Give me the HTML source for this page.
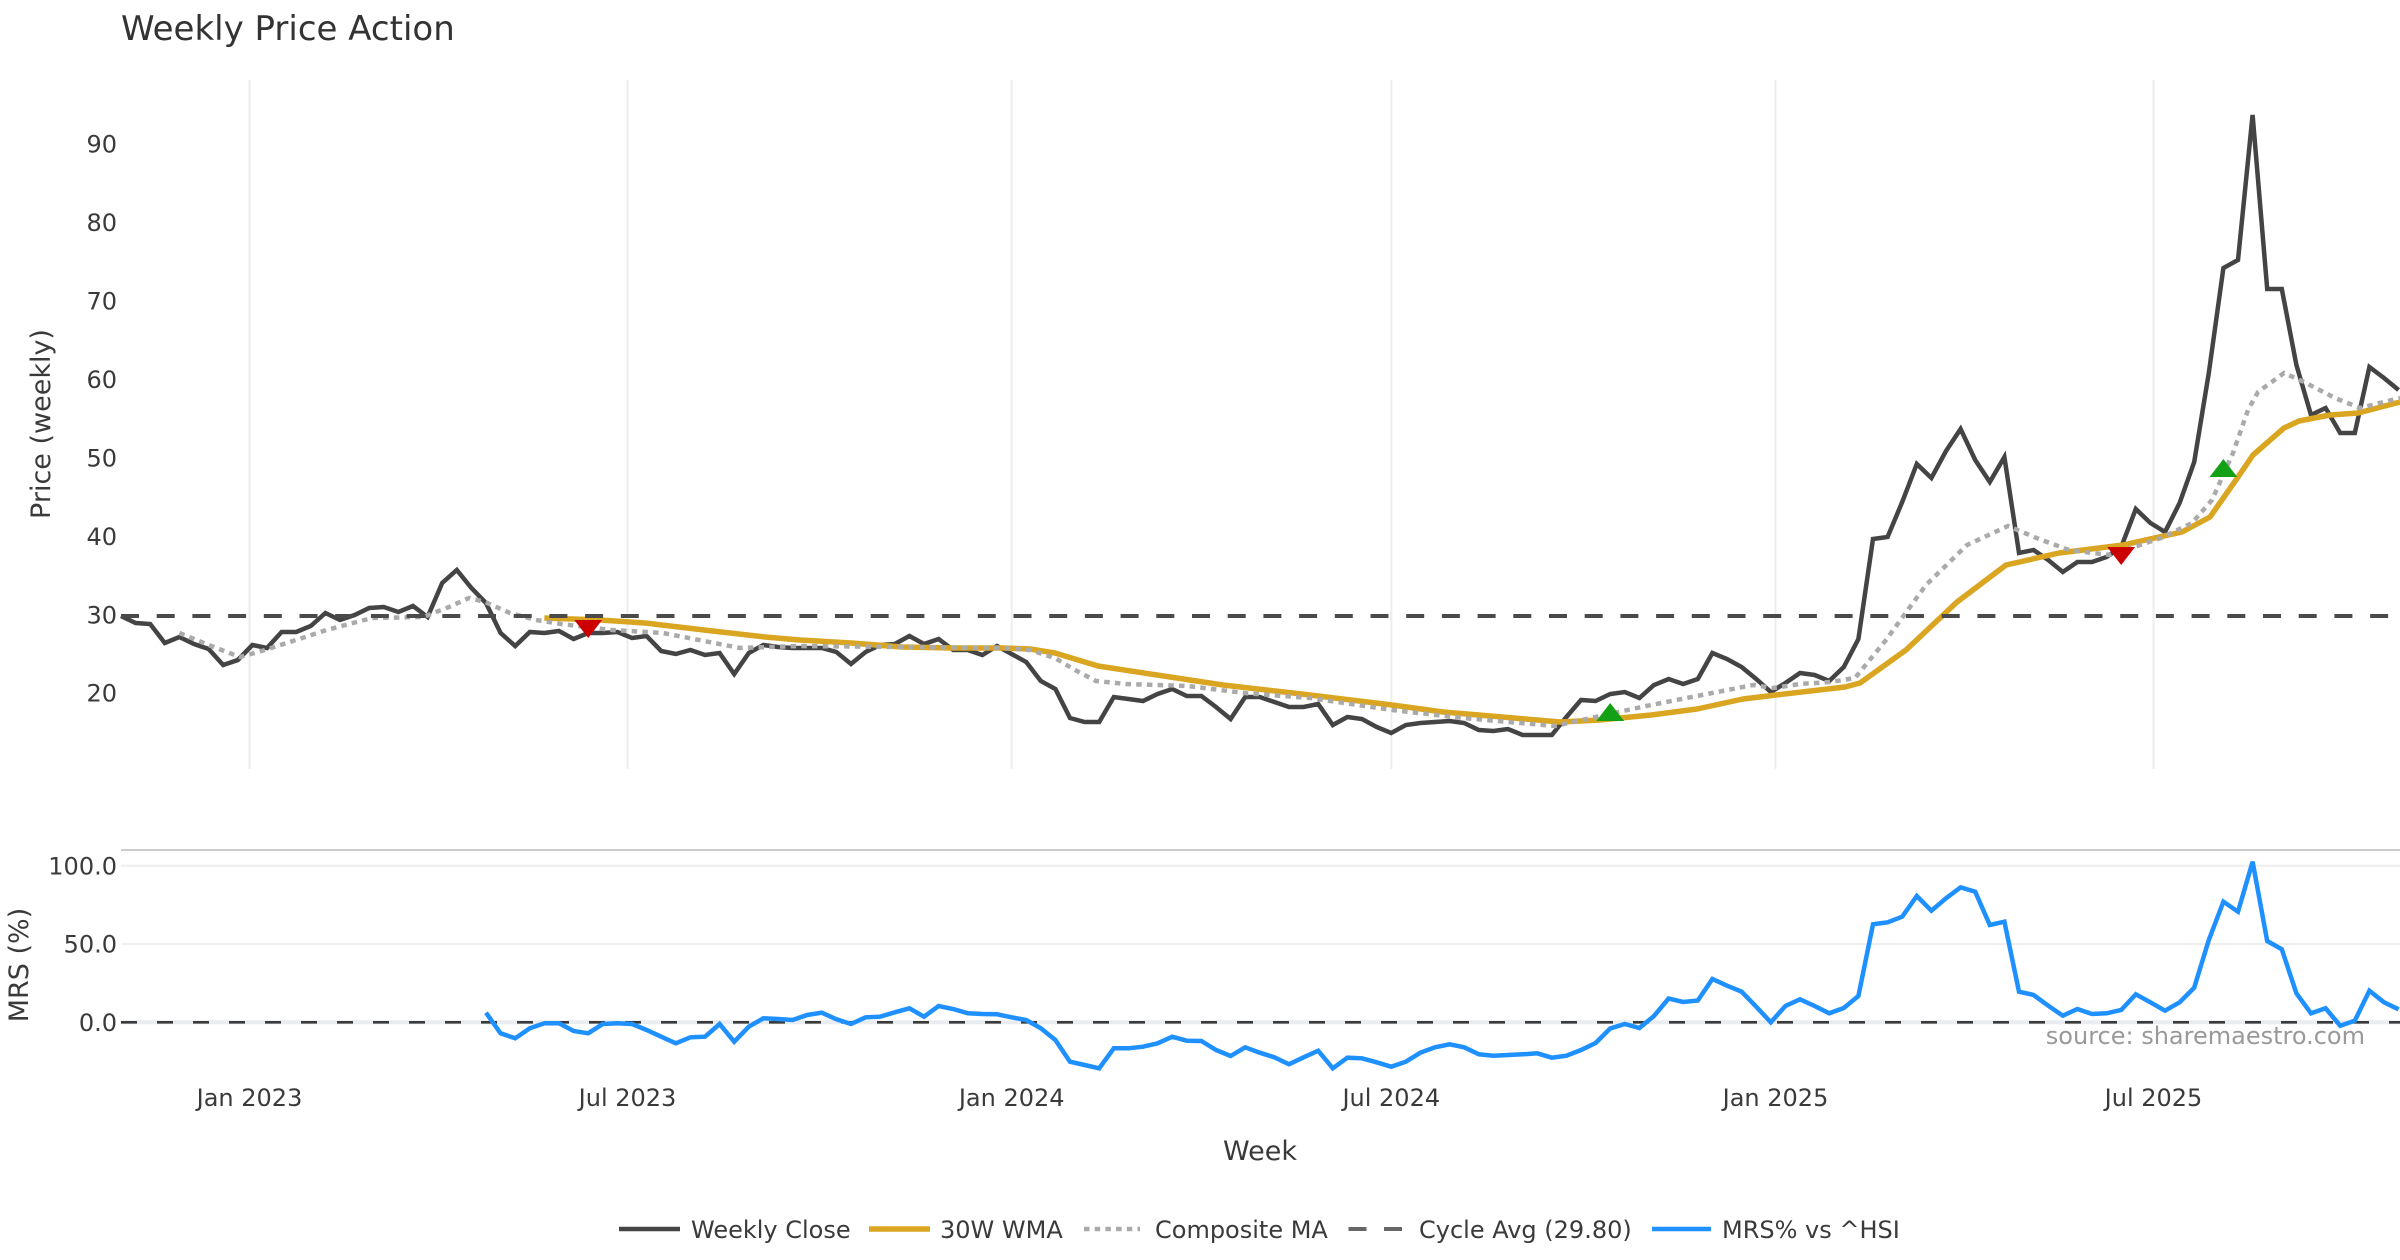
<!DOCTYPE html>
<html>
<head>
<meta charset="utf-8">
<style>
html,body{margin:0;padding:0;background:#fff;}
svg{display:block;}
text{font-family:"DejaVu Sans","Liberation Sans",sans-serif;fill:#3a3a3a;}
</style>
</head>
<body>
<svg width="2400" height="1260" viewBox="0 0 2400 1260" xmlns="http://www.w3.org/2000/svg">
<rect x="0" y="0" width="2400" height="1260" fill="#ffffff"/>

<!-- Title -->
<text x="121" y="40" font-size="34" style="fill:#333">Weekly Price Action</text>

<!-- Price panel vertical gridlines -->
<g stroke="#eceef1" stroke-width="2">
<line x1="249.5" y1="80" x2="249.5" y2="769"/>
<line x1="627.5" y1="80" x2="627.5" y2="769"/>
<line x1="1011.7" y1="80" x2="1011.7" y2="769"/>
<line x1="1391.3" y1="80" x2="1391.3" y2="769"/>
<line x1="1775.5" y1="80" x2="1775.5" y2="769"/>
<line x1="2153.5" y1="80" x2="2153.5" y2="769"/>
</g>

<!-- Price y tick labels -->
<g font-size="24" text-anchor="end">
<text x="117" y="152.7">90</text>
<text x="117" y="231.1">80</text>
<text x="117" y="309.6">70</text>
<text x="117" y="388">60</text>
<text x="117" y="466.4">50</text>
<text x="117" y="544.8">40</text>
<text x="117" y="623.3">30</text>
<text x="117" y="701.7">20</text>
</g>

<text transform="translate(50,424) rotate(-90)" font-size="27" text-anchor="middle">Price (weekly)</text>

<!-- Weekly close -->
<polyline fill="none" stroke="#444444" stroke-width="4.5" stroke-linejoin="miter" points="121,616 135.6,623 150.2,624 164.8,643 179.4,637 194,644 208.6,649 223.2,665 237.8,660 252.4,645 267,648 281.6,632 296.2,632 310.8,626 325.4,613 340,620 354.6,615 369.2,608 383.8,607 398.4,612 413,606 427.6,617 442.2,583 456.8,570 471.4,588 486,603 500.6,633 515.2,646 529.8,632 544.4,633 559,631 573.6,639 588.2,633 602.8,633 617.4,632 632,638 646.6,636 661.2,651 675.8,654 690.4,650 705,655 719.6,653 734.2,674 748.8,653 763.4,645 778,647 792.6,648 807.2,648 821.8,648 836.4,652 851,664 865.6,652 880.2,645 894.8,644 909.4,636 924,644 938.6,639 953.2,650 967.8,650 982.4,655 997,646 1011.6,654 1026.2,662 1040.8,681 1055.4,689 1070,718 1084.6,722 1099.2,722 1113.8,697 1128.4,699 1143,701 1157.6,694 1172.2,689 1186.8,696 1201.4,696 1216,707 1230.6,719 1245.2,697 1259.8,697 1274.4,702 1289,707 1303.6,707 1318.2,704 1332.8,725 1347.4,717 1362,719 1376.6,727 1391.2,733 1405.8,725 1420.4,723 1435,722 1449.6,721 1464.2,723 1478.8,730 1493.4,731 1508,729 1522.6,735 1537.2,735 1551.8,735 1566.4,717 1581,700 1595.6,701 1610.2,694 1624.8,692 1639.4,698 1654,685 1668.6,679 1683.2,684 1697.8,679 1712.4,653 1727,659 1741.6,667 1756.2,679 1770.8,692 1785.4,683 1800,673 1814.6,675 1829.2,681 1843.8,667 1858.4,639 1873,539 1887.6,537 1902.2,502 1916.8,464 1931.4,478 1946,451 1960.6,429 1975.2,460 1989.8,482 2004.4,457 2019,553 2033.6,550 2048.2,560 2062.8,572 2077.4,562 2092,562 2106.6,557 2121.2,547 2135.8,509 2150.4,523 2165,532 2179.6,503 2194.2,462 2208.8,373 2223.4,268 2238,260 2252.6,115 2267.2,289 2281.8,289 2296.4,365 2311,415 2325.6,408 2340.2,433 2354.8,433 2369.4,367 2384,378 2398.6,390"/>

<!-- 30W WMA -->
<polyline fill="none" stroke="#DAA520" stroke-width="5.5" stroke-linejoin="round" points="544.4,618 600,620 645,623 704,630 765,637 800,640 851,643 902,647 953,648 1004,648 1030,649 1055,653 1098,666 1157,675 1223,685 1310,695 1392,705 1443,712 1514,718 1560,722 1600,720 1651,715 1697,709 1743,699 1776,695 1845,687 1860,683 1906,650 1957,602 2006,565 2059,553 2123,545 2182,532 2210,517 2238,477 2253,455 2284,428 2299,421 2330,415 2358,413 2400,402"/>

<!-- Composite MA -->
<polyline fill="none" stroke="#aaaaaa" stroke-width="4.5" stroke-dasharray="5.5,5.2" points="179.4,633 208.6,645 240,657 265,650 296,640 326.5,630 372,618 423.5,617 449,607 469,598 485,602 510,613 536,620 561,624 612,630 663,633 740,648 800,646 902,647 1004,648 1030,650 1055,658 1075,670 1096,681 1126,684 1188,686 1244,693 1310,698 1392,710 1463,718 1555,726 1600,716 1651,705 1702,695 1753,685 1773,688 1800,684 1830,682 1855,678 1886,640 1926,585 1967,545 2008,526 2039,539 2069,550 2110,555 2161,538 2192,523 2212,500 2233,453 2248,410 2258,392 2284,373 2304,382 2335,398 2360,408 2400,398"/>

<!-- Cycle avg -->
<line x1="121" y1="616" x2="2400" y2="616" stroke="#4a4a4a" stroke-width="4" stroke-dasharray="18,17.7"/>

<!-- Markers -->
<path d="M574.3,620 L602.1,620 L588.2,638 Z" fill="#cc0000"/>
<path d="M1596.3,721 L1624.1,721 L1610.2,703 Z" fill="#14a014"/>
<path d="M2107.3,547 L2135.1,547 L2121.2,565 Z" fill="#cc0000"/>
<path d="M2209.5,477 L2237.3,477 L2223.4,459 Z" fill="#14a014"/>

<!-- MRS panel -->
<line x1="121" y1="850" x2="2400" y2="850" stroke="#cccccc" stroke-width="2"/>
<g stroke="#eeeeee" stroke-width="2">
<line x1="121" y1="865.7" x2="2400" y2="865.7"/>
<line x1="121" y1="944" x2="2400" y2="944"/>
</g>
<line x1="121" y1="1022.3" x2="2400" y2="1022.3" stroke="#e9ecf1" stroke-width="4"/>
<line x1="121" y1="1022.3" x2="2400" y2="1022.3" stroke="#3a3a3a" stroke-width="2.7" stroke-dasharray="16,20"/>

<g font-size="24" text-anchor="end">
<text x="117" y="874.4">100.0</text>
<text x="117" y="952.7">50.0</text>
<text x="117" y="1031">0.0</text>
</g>
<text transform="translate(28,965) rotate(-90)" font-size="27" text-anchor="middle">MRS (%)</text>

<polyline fill="none" stroke="#1E90FF" stroke-width="4.5" stroke-linejoin="miter" points="486,1012.7 500.6,1033.3 515.2,1038.3 529.8,1028.3 544.4,1023.3 559,1023.3 573.6,1031 588.2,1033.3 602.8,1024 617.4,1023.3 632,1024 646.6,1030 661.2,1036.7 675.8,1043.3 690.4,1037.3 705,1036.7 719.6,1024 734.2,1041.7 748.8,1026.7 763.4,1018.3 778,1019 792.6,1020 807.2,1015 821.8,1012.7 836.4,1019.3 851,1024 865.6,1017.3 880.2,1016.7 894.8,1012.3 909.4,1008.3 924,1016.7 938.6,1006 953.2,1009 967.8,1013.3 982.4,1014 997,1014.3 1011.6,1017.3 1026.2,1020 1040.8,1028.3 1055.4,1040 1070,1061.7 1084.6,1065 1099.2,1068.3 1113.8,1048.3 1128.4,1048.3 1143,1046.7 1157.6,1043.3 1172.2,1036.7 1186.8,1040.7 1201.4,1041 1216,1050 1230.6,1056 1245.2,1047.3 1259.8,1052.7 1274.4,1057.3 1289,1064.3 1303.6,1057.3 1318.2,1050.7 1332.8,1068.3 1347.4,1057.7 1362,1058.3 1376.6,1062.3 1391.2,1066.7 1405.8,1061.7 1420.4,1052.7 1435,1047.3 1449.6,1044.3 1464.2,1047.3 1478.8,1054.3 1493.4,1055.7 1508,1055 1522.6,1054.3 1537.2,1053.3 1551.8,1057.7 1566.4,1055.7 1581,1050 1595.6,1043 1610.2,1028.5 1624.8,1024 1639.4,1028 1654,1016 1668.6,998.5 1683.2,1002 1697.8,1000.5 1712.4,979 1727,985.7 1741.6,991.7 1756.2,1006.7 1770.8,1022.3 1785.4,1006 1800,999.3 1814.6,1006 1829.2,1013.3 1843.8,1008 1858.4,996 1873,924.3 1887.6,922.3 1902.2,916.7 1916.8,896 1931.4,910.7 1946,898.3 1960.6,887.3 1975.2,891.7 1989.8,925 2004.4,921.7 2019,991.7 2033.6,995 2048.2,1005.7 2062.8,1015.7 2077.4,1009 2092,1014 2106.6,1013.3 2121.2,1010 2135.8,994.3 2150.4,1002.3 2165,1010.7 2179.6,1002.3 2194.2,987.7 2208.8,940 2223.4,901.7 2238,911.7 2252.6,861.7 2267.2,941 2281.8,949.3 2296.4,993.3 2311,1013.3 2325.6,1008.3 2340.2,1025.7 2354.8,1020.7 2369.4,990.7 2384,1002.3 2398.6,1009.3"/>

<text x="2365" y="1044" font-size="24" text-anchor="end" style="fill:#999999">source: sharemaestro.com</text>

<!-- X tick labels -->
<g font-size="24" text-anchor="middle">
<text x="249.5" y="1106">Jan 2023</text>
<text x="627.5" y="1106">Jul 2023</text>
<text x="1011.7" y="1106">Jan 2024</text>
<text x="1391.3" y="1106">Jul 2024</text>
<text x="1775.5" y="1106">Jan 2025</text>
<text x="2153.5" y="1106">Jul 2025</text>
</g>
<text x="1260" y="1160" font-size="27" text-anchor="middle">Week</text>

<!-- Legend -->
<line x1="619" y1="1229" x2="680" y2="1229" stroke="#444444" stroke-width="4.5"/>
<text x="691" y="1238" font-size="24">Weekly Close</text>
<line x1="869" y1="1229" x2="930" y2="1229" stroke="#DAA520" stroke-width="5.5"/>
<text x="940" y="1238" font-size="24">30W WMA</text>
<line x1="1084" y1="1229" x2="1140" y2="1229" stroke="#aaaaaa" stroke-width="4.5" stroke-dasharray="5.5,5.2"/>
<text x="1155" y="1238" font-size="24">Composite MA</text>
<line x1="1348.5" y1="1229" x2="1403" y2="1229" stroke="#666666" stroke-width="4" stroke-dasharray="18,17.5"/>
<text x="1419" y="1238" font-size="24">Cycle Avg (29.80)</text>
<line x1="1652" y1="1229" x2="1711" y2="1229" stroke="#1E90FF" stroke-width="4.5"/>
<text x="1722" y="1238" font-size="24">MRS% vs ^HSI</text>
</svg>
</body>
</html>
